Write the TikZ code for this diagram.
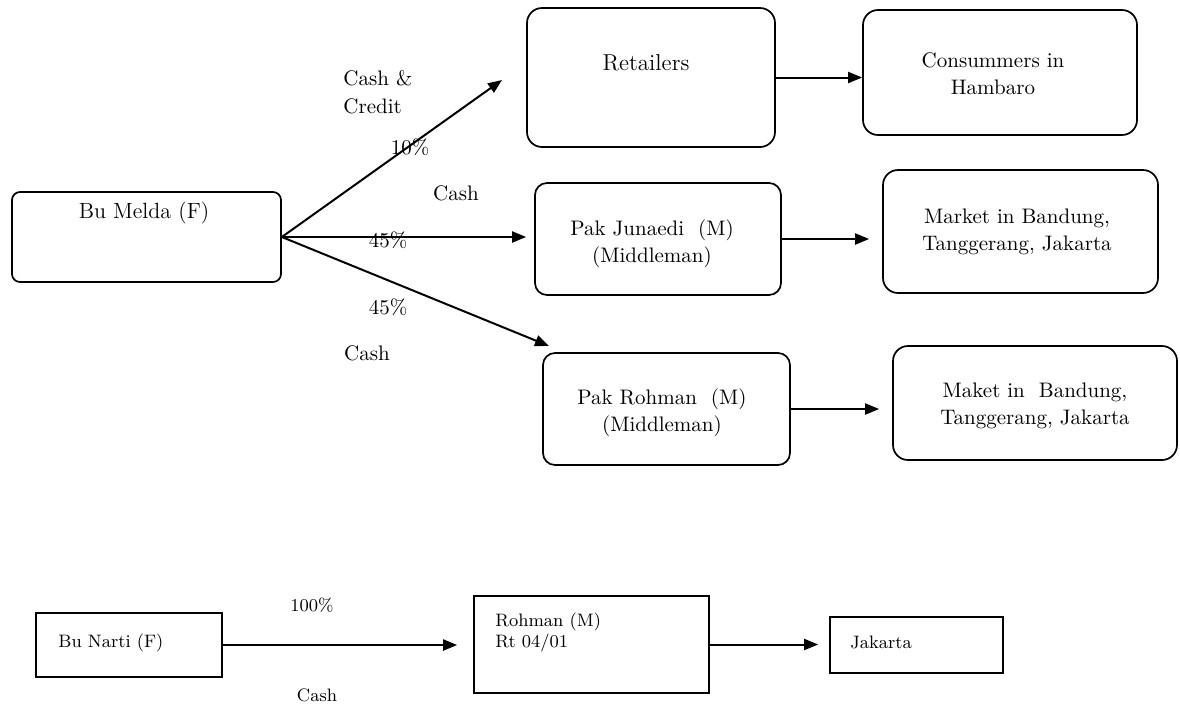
\documentclass[tikz,border=0pt]{standalone}
\usepackage{fontspec}
\usetikzlibrary{arrows.meta,calc}
\begin{document}
\begin{tikzpicture}[x=0.5pt,y=-0.5pt,
  rbox/.style={draw, line width=0.85pt, rounded corners=6pt, inner sep=0pt},
  sbox/.style={draw, line width=0.85pt, inner sep=0pt},
  txt/.style={inner sep=0pt, align=center, font=\fontsize{10.5}{13.5}\selectfont},
  lbl/.style={inner sep=0pt, align=left, font=\fontsize{10.5}{14}\selectfont},
  small/.style={inner sep=0pt, align=left, font=\fontsize{9}{10.5}\selectfont},
  arr/.style={line width=1pt, -{Triangle[length=7pt,width=5.5pt]}}]
\useasboundingbox (0,0) rectangle (1180,703);

% boxes
\node[rbox, rounded corners=4pt, minimum width=134.5pt, minimum height=45pt] (melda) at (146.5,237) {};
\node[rbox, rounded corners=7.5pt, minimum width=124pt, minimum height=69.5pt] (retail) at (651,77.5) {};
\node[rbox, rounded corners=7.5pt, minimum width=137pt, minimum height=62.5pt] (consum) at (1000,72.5) {};
\node[rbox, minimum width=123pt, minimum height=56pt] (junaedi) at (658,239) {};
\node[rbox, rounded corners=7.5pt, minimum width=137.5pt, minimum height=61.5pt] (market) at (1020.5,231.5) {};
\node[rbox, minimum width=123.5pt, minimum height=56pt] (rohman) at (666.5,409) {};
\node[rbox, rounded corners=7.5pt, minimum width=142pt, minimum height=57pt] (maket) at (1035,403) {};
\node[sbox, minimum width=93pt, minimum height=32pt] (narti) at (129,645) {};
\node[sbox, minimum width=117.5pt, minimum height=48.5pt] (rohmantwo) at (591.5,644.5) {};
\node[sbox, minimum width=86.5pt, minimum height=28pt] (jakarta) at (916.5,645) {};

% box texts
\node[txt, font=\fontsize{11}{13}\selectfont] (tmelda) at (144,213) {Bu Melda (F)};
\node[txt, font=\fontsize{11.5}{13}\selectfont] (tretail) at (646,63) {Retailers};
\node[txt] (tconsum) at (993,73.5) {Consummers in\\Hambaro};
\node[txt] (tjunaedi) at (652,243.5) {Pak Junaedi\ \ (M)\\(Middleman)};
\node[txt] (tmarket) at (1017,231.5) {Market in Bandung,\\Tanggerang, Jakarta};
\node[txt] (trohman) at (662,413) {Pak Rohman\ \ (M)\\(Middleman)};
\node[txt] (tmaket) at (1035,406) {Maket in\ \ Bandung,\\Tanggerang, Jakarta};
\node[small, anchor=west] (tnarti) at (58,643) {Bu Narti (F)};
\node[small, anchor=west] (trohmantwo) at (495,632.5) {Rohman (M)\\Rt 04/01};
\node[small, anchor=west] (tjakarta) at (850,642) {Jakarta};

% connectors
\coordinate (tipR) at (502,80);
\coordinate (tipP) at (549,346);
\draw[arr] (melda.east) -- (tipR);
\draw[arr, shorten >=4pt] (melda.east) -- (melda.east -| junaedi.west);
\draw[arr] (melda.east) -- (tipP);
\draw[arr] (retail.east) -- (retail.east -| consum.west);
\draw[arr, shorten >=6.5pt] (junaedi.east) -- (junaedi.east -| market.west);
\draw[arr, shorten >=6.5pt] (rohman.east) -- (rohman.east -| maket.west);
\draw[arr, shorten >=8pt] (narti.east) -- (narti.east -| rohmantwo.west);
\draw[arr, shorten >=5.5pt] (rohmantwo.east) -- (rohmantwo.east -| jakarta.west);

% connector labels
\node[lbl, anchor=west] (lcc) at (343,92.5) {Cash \&\\Credit};
\node[lbl] (lten) at (410,147) {10\%};
\node[lbl] (lcashm) at (456,193) {Cash};
\node[lbl] (lfm) at (388,240) {45\%};
\node[lbl] (lfl) at (388,307) {45\%};
\node[lbl] (lcashl) at (367,353) {Cash};
\node[small] (lhund) at (312,605) {100\%};
\node[small] (lcashb) at (317,695) {Cash};
\end{tikzpicture}
\end{document}
